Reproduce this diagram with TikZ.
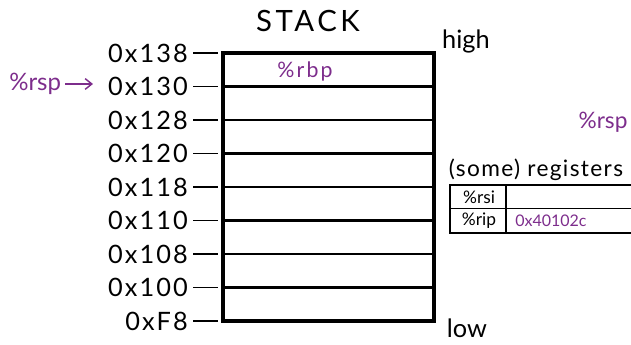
\documentclass[tikz,border=0pt]{standalone}
\usepackage{fontspec}
\setmainfont{Lato}
\usetikzlibrary{arrows.meta}
\definecolor{regpurple}{RGB}{125,45,140}
\begin{document}
\begin{tikzpicture}[x=0.75pt,y=-0.75pt,
  addr/.style={anchor=east,inner sep=0pt,font=\fontsize{19}{21}\selectfont\addfontfeature{LetterSpace=8}},
  tick/.style={line width=1.3pt},
  rowline/.style={line width=2.1pt},
  frame/.style={line width=2.8pt},
  purp/.style={text=regpurple,inner sep=0pt},
  reg/.style={line width=1.3pt}]
\useasboundingbox (0,0) rectangle (631,345);
% title and high / low
\node[inner sep=0pt,font=\fontsize{22}{24}\selectfont\addfontfeature{LetterSpace=12}] (title) at (308,21) {STACK};
\node[inner sep=0pt,font=\fontsize{19}{21}\selectfont] (high) at (466,41) {high};
\node[inner sep=0pt,font=\fontsize{19}{21}\selectfont] (low) at (467,328) {low};
% stack box
\coordinate (tl) at (223,53);
\coordinate (br) at (434,321);
\foreach \i in {1,...,7} {
  \coordinate (l\i) at (223,{53+\i*33.5});
  \coordinate (r\i) at (434,{53+\i*33.5});
  \draw[rowline] (l\i) -- (r\i);
}
\draw[frame] (tl) rectangle (br);
% address labels and ticks
\foreach \i/\t in {0/0x138,1/0x130,2/0x128,3/0x120,4/0x118,5/0x110,6/0x108,7/0x100,8/0xF8} {
  \node[addr] (a\i) at (188,{53+\i*33.5}) {\t};
  \coordinate (s\i) at (193,{53+\i*33.5});
  \coordinate (k\i) at (218,{53+\i*33.5});
  \draw[tick] (s\i) -- (k\i);
}
% contents
\node[purp,font=\fontsize{16}{18}\selectfont\addfontfeature{LetterSpace=10}] (rbp) at (305,71) {\%rbp};
\node[purp,font=\fontsize{18}{20}\selectfont,anchor=west] (rsp) at (9,84) {\%rsp};
\coordinate (arrend) at (93,84);
\draw[regpurple,line width=1.1pt,-{Straight Barb[length=5pt,width=8pt]}] ([xshift=3pt]rsp.east) -- (arrend);
\node[purp,font=\fontsize{17}{19}\selectfont] (rsp2) at (603,122) {\%rsp};
% registers
\node[inner sep=0pt,font=\fontsize{17}{19}\selectfont\addfontfeature{LetterSpace=6}] (regtitle) at (536,170) {(some) registers};
\coordinate (t0) at (450,185);
\coordinate (t1) at (640,233);
\draw[reg] (t0) rectangle (t1);
\coordinate (m0) at (450,208.5);
\coordinate (m1) at (640,208.5);
\draw[reg] (m0) -- (m1);
\coordinate (d0) at (506,185);
\coordinate (d1) at (506,233);
\draw[reg] (d0) -- (d1);
\node[inner sep=0pt,font=\fontsize{13}{15}\selectfont] (rsi) at (479,197) {\%rsi};
\node[inner sep=0pt,font=\fontsize{13}{15}\selectfont] (rip) at (479,221) {\%rip};
\node[purp,font=\fontsize{12}{14}\selectfont,anchor=west] (ripval) at (515,221) {0x40102c};
\end{tikzpicture}
\end{document}
